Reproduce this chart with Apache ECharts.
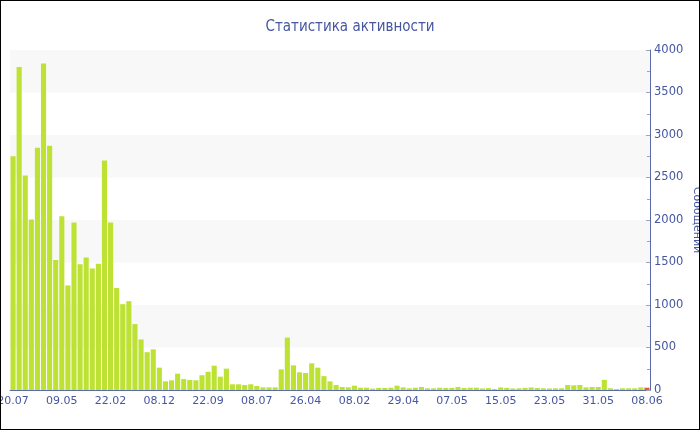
<!DOCTYPE html>
<html>
<head>
<meta charset="utf-8">
<script src="https://cdn.jsdelivr.net/npm/echarts@6/dist/echarts.min.js"></script>
<style>
  html, body { margin: 0; padding: 0; background: #fff; }
  #frame { width: 700px; height: 430px; box-sizing: border-box; border: 1px solid #000; }
  #chart { width: 698px; height: 428px; }
</style>
</head>
<body>
<div id="frame"><div id="chart"></div></div>
<script>
// Period labels (older periods are aggregated, the last weeks are daily)
const periods = [
  '20.07','26.08','01.10','07.11','13.12','18.01','23.02','01.04',
  '09.05','14.06','20.07','25.08','30.09','05.11','11.12','17.01',
  '22.02','30.03','05.05','10.06','16.07','21.08','26.09','02.11',
  '08.12','13.01','18.02','26.03','01.05','06.06','12.07','17.08',
  '22.09','28.10','03.12','08.01','13.02','21.03','26.04','01.06',
  '08.07','13.08','18.09','24.10','29.11','04.01','09.02','18.03',
  '26.04','01.06','07.07','12.08','17.09','23.10','28.11','03.01',
  '08.02','18.02','28.02','10.03','20.03','30.03','09.04','19.04',
  '29.04','30.04','01.05','02.05','03.05','04.05','05.05','06.05',
  '07.05','08.05','09.05','10.05','11.05','12.05','13.05','14.05',
  '15.05','16.05','17.05','18.05','19.05','20.05','21.05','22.05',
  '23.05','24.05','25.05','26.05','27.05','28.05','29.05','30.05',
  '31.05','01.06','02.06','03.06','04.06','05.06','06.06','07.06',
  '08.06'
];

// Messages per period
const messages = [
  2750, 3800, 2525, 2005, 2850, 3840, 2875, 1530, 2045, 1230, 1970, 1480, 1560, 1430, 1485, 2700, 1970,
  1200, 1010, 1045, 775, 595, 445, 478, 263, 102, 114, 192, 128, 118, 114, 174, 214,
  286, 157, 251, 67, 67, 59, 67, 47, 31, 31, 31, 243, 616, 290, 208, 200, 314, 263, 163, 102,
  59, 35, 31, 51, 27, 27, 16, 24, 24, 27, 51, 31, 20, 27, 35, 20, 20, 27, 24,
  25, 35, 24, 27, 27, 18, 22, 12, 30, 25, 18, 20, 25, 30, 24, 20,
  18, 20, 20, 59, 55, 59, 31, 35, 35, 120, 20, 12, 20, 20, 20, 31, 27
];

const yTicks = { min: 0, max: 4000, interval: 500 };

const textColor = '#4656a0';
const axisColor = '#5a6aae';
const tickColor = '#a0a4b4';
const barColor = '#bde234';
const todayColor = '#e8583a';
const font = '"DejaVu Sans", Verdana, sans-serif';
const titleFont = '"DejaVu Sans Condensed", "DejaVu Sans", sans-serif';

const chart = echarts.init(document.getElementById('chart'), null, { renderer: 'canvas' });

chart.setOption({
  animation: false,
  backgroundColor: '#fff',
  title: {
    text: 'Статистика активности',
    left: 'center',
    top: 14,
    textStyle: { color: textColor, fontSize: 15, fontWeight: 'normal', fontFamily: titleFont }
  },
  grid: { left: 9, right: 49, top: 49, bottom: 39, containLabel: false, outerBoundsMode: 'none' },
  xAxis: {
    type: 'category',
    data: periods,
    axisLine: { lineStyle: { color: axisColor, width: 1 } },
    axisTick: { alignWithLabel: true, interval: 7, length: 3, lineStyle: { color: tickColor } },
    axisLabel: { interval: 7, color: textColor, fontSize: 11, fontFamily: font, margin: 6, hideOverlap: false },
    splitLine: { show: false }
  },
  yAxis: {
    type: 'value',
    position: 'right',
    min: yTicks.min,
    max: yTicks.max,
    interval: yTicks.interval,
    name: 'Сообщений',
    nameLocation: 'middle',
    nameRotate: -90,
    nameGap: 41,
    nameMoveOverlap: false,
    nameTextStyle: { color: textColor, fontSize: 11, fontFamily: font },
    axisLine: { show: true, lineStyle: { color: axisColor, width: 1 } },
    axisTick: { show: true, inside: true, length: 4, lineStyle: { color: tickColor } },
    minorTick: { show: true, splitNumber: 2, length: 3, lineStyle: { color: tickColor } },
    axisLabel: { color: textColor, fontSize: 11.5, fontFamily: font, margin: 4, formatter: v => String(v) },
    splitLine: { show: false },
    splitArea: { show: true, areaStyle: { color: ['rgba(255,255,255,0)', '#f8f8f8'] } }
  },
  series: [{
    type: 'bar',
    data: messages.map((v, i) => ({
      value: v,
      itemStyle: { color: i === messages.length - 1 ? todayColor : barColor }
    })),
    barCategoryGap: '16%'
  }]
});
</script>
</body>
</html>
